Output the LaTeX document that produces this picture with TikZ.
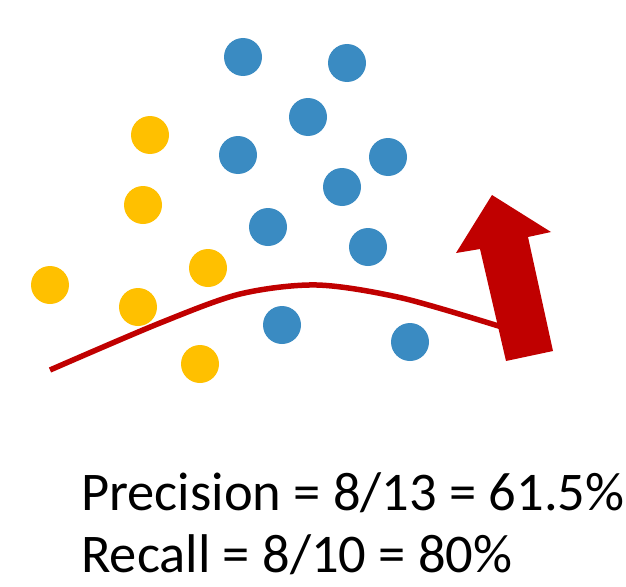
\documentclass[tikz,border=0pt]{standalone}
\usepackage{fontspec}
\setmainfont{Carlito}
\definecolor{dotblue}{RGB}{58,139,194}
\definecolor{dotyellow}{RGB}{255,192,0}
\definecolor{darkred}{RGB}{192,0,0}
\begin{document}
\begin{tikzpicture}[x=1pt, y=-1pt, line join=round, line cap=round,
		pos dot/.style={fill=dotblue},
		neg dot/.style={fill=dotyellow},
		boundary/.style={draw=darkred, line width=5.5pt, line cap=butt},
		measure/.style={anchor=base west, inner sep=0pt, font=\fontsize{54.5}{60}\selectfont}
		]
		\useasboundingbox (0,0) rectangle (626,586);
		% blue points
		\foreach \x/\y in {243/57, 347/63, 308/117, 238/155, 388/157, 342/187, 268/227, 368/247, 282/325, 410/342}
			\fill[pos dot] (\x,\y) circle[radius=19pt];
		% yellow points
		\foreach \x/\y in {150/135, 143/205, 208/268, 50/285, 138/307, 200/364}
			\fill[neg dot] (\x,\y) circle[radius=19pt];
		% decision curve
		\draw[boundary] plot[smooth] coordinates {(50,370) (160,323) (240,294) (317,285) (402,298) (505,328)};
		% big arrow
		\fill[darkred] (492,195)--(551,232)--(528,237)--(553,351)--(506,361)--(480,249)--(456,253)--cycle;
		\node[measure] (prec) at (81,510) {Precision = 8/13 = 61.5\%};
		\node[measure] (rec) at (81,572) {Recall = 8/10 = 80\%};
\end{tikzpicture}
\end{document}
